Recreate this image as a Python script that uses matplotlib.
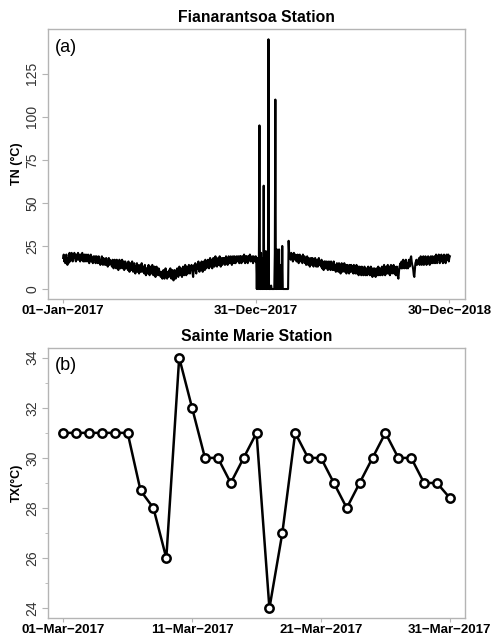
import matplotlib
matplotlib.use("Agg")
from matplotlib import pyplot as plt
from matplotlib.ticker import MultipleLocator
import numpy as np
import pandas as pd

FILENAME = "out.png"

# daily minimum temperature, Fianarantsoa (one row per month)
tn_2017 = [
    18, 20, 16, 19, 15, 17, 20, 15, 14, 18, 15, 19, 21, 16, 19, 20, 21, 17, 16, 20, 18, 21, 19, 17, 16, 20, 17, 19, 21, 17, 20,
    18, 16, 20, 17, 20, 21, 17, 16, 19, 20, 16, 18, 20, 17, 16, 19, 20, 18, 15, 17, 19, 20, 16, 18, 17, 15, 19, 17,
    17, 19, 15, 17, 19, 16, 15, 18, 19, 15, 17, 14, 16, 18, 19, 15, 14, 18, 16, 17, 14, 16, 18, 14, 16, 13, 16, 18, 14, 17, 15,
    16, 14, 13, 17, 15, 12, 15, 17, 13, 15, 12, 17, 15, 13, 11, 15, 17, 13, 12, 16, 14, 17, 12, 14, 16, 11, 14, 16, 12, 14,
    13, 15, 11, 16, 13, 10, 13, 15, 11, 13, 16, 11, 10, 14, 15, 11, 9, 13, 12, 15, 10, 14, 12, 9, 12, 14, 10, 12, 15, 10, 12,
    11, 13, 9, 14, 11, 8, 12, 11, 9, 13, 14, 9, 8, 11, 13, 9, 11, 14, 9, 8, 11, 13, 9, 7, 11, 13, 9, 11, 8, 12,
    11, 9, 8, 7, 10, 8, 6, 9, 11, 7, 6, 9, 12, 8, 7, 6, 10, 9, 7, 11, 8, 12, 7, 6, 9, 11, 7, 5, 9, 11, 7,
    6, 9, 11, 12, 8, 7, 10, 13, 10, 8, 12, 10, 7, 11, 13, 9, 8, 12, 14, 10, 8, 13, 11, 9, 12, 14, 11, 9, 13, 11, 14,
    12, 9, 7, 11, 14, 12, 15, 10, 9, 14, 12, 15, 16, 11, 10, 14, 15, 11, 16, 13, 10, 15, 16, 12, 11, 17, 14, 12, 16, 14,
    17, 13, 12, 16, 18, 13, 15, 17, 12, 15, 18, 16, 13, 15, 19, 16, 14, 13, 17, 18, 14, 16, 19, 15, 13, 17, 18, 14, 16, 18, 16,
    18, 14, 16, 19, 15, 18, 14, 16, 19, 17, 15, 18, 19, 16, 14, 18, 19, 17, 15, 19, 17, 15, 18, 19, 16, 17, 19, 17, 15, 19,
    17, 19, 15, 18, 19, 16, 18, 20, 17, 15, 19, 17, 19, 16, 15, 19, 17, 18, 20, 16, 18, 17, 19, 16, 15, 19, 17, 18, 16, 19, 17,
]
tn_2018 = [
    0, 18, 0, 0, 20, 95, 0, 0, 21, 0, 18, 0, 0, 60, 0, 19, 0, 22, 0, 0, 20, 0, 145, 0, 0, 0, 0, 2, 0, 0, 0,
    0, 0, 0, 21, 110, 0, 0, 23, 0, 18, 0, 23, 0, 14, 0, 12, 0, 25, 0, 0, 0, 0, 0, 0, 0, 0, 0, 0,
    0, 28, 21, 18, 20, 17, 21, 18, 20, 16, 19, 21, 18, 17, 20, 19, 16, 19, 20, 17, 15, 19, 20, 17, 16, 19, 18, 15, 20, 17, 18,
    19, 15, 17, 14, 18, 19, 15, 14, 18, 16, 13, 17, 18, 14, 16, 18, 14, 13, 17, 15, 18, 16, 13, 15, 17, 13, 15, 18, 14, 16,
    15, 13, 17, 12, 15, 14, 11, 16, 13, 16, 12, 14, 16, 12, 11, 14, 16, 12, 14, 11, 16, 12, 14, 11, 13, 16, 11, 14, 13, 10, 13,
    15, 11, 13, 10, 15, 13, 11, 9, 13, 15, 11, 10, 14, 12, 15, 10, 12, 14, 9, 12, 14, 10, 12, 9, 14, 12, 10, 14, 12, 10,
    13, 9, 14, 10, 12, 9, 11, 14, 9, 11, 13, 8, 11, 13, 9, 11, 8, 13, 9, 12, 8, 10, 13, 11, 8, 10, 12, 8, 10, 13, 9,
    12, 8, 10, 13, 8, 10, 7, 12, 10, 8, 12, 10, 7, 10, 12, 8, 10, 13, 8, 12, 10, 8, 12, 9, 13, 8, 10, 12, 14, 10, 8,
    11, 13, 9, 11, 14, 9, 13, 11, 8, 13, 14, 10, 9, 13, 11, 14, 9, 13, 11, 8, 10, 13, 11, 7, 6, 10, 13, 14, 15, 12,
    16, 12, 14, 17, 13, 12, 16, 14, 17, 12, 15, 14, 12, 16, 17, 13, 15, 18, 19, 16, 14, 13, 11, 8, 7, 11, 15, 16, 17, 14, 15,
    15, 17, 18, 14, 16, 19, 15, 14, 18, 16, 19, 14, 17, 16, 19, 18, 14, 17, 16, 19, 17, 15, 14, 18, 19, 15, 17, 19, 15, 17,
    17, 19, 15, 18, 20, 16, 15, 19, 17, 20, 18, 15, 17, 19, 20, 16, 18, 15, 19, 20, 16, 18, 15, 19, 20, 17, 18, 20, 16, 18, 19,
]

# daily maximum temperature, Sainte Marie, March 2017
tx_march = [31, 31, 31, 31, 31, 31, 28.7, 28, 26, 34, 32, 30, 30, 29, 30, 31,
            24, 27, 31, 30, 30, 29, 28, 29, 30, 31, 30, 30, 29, 29, 28.4]

top_ticks = ["2017-01-01", "2017-12-31", "2018-12-30"]
bottom_ticks = ["2017-03-01", "2017-03-11", "2017-03-21", "2017-03-31"]

GRAY = "#b4b4b4"

default_style = {
    "font.family": ["Liberation Sans", "DejaVu Sans"],
    "axes.edgecolor": GRAY,
    "axes.linewidth": 1.0,
    "xtick.color": GRAY,
    "ytick.color": GRAY,
    "xtick.labelcolor": "black",
    "ytick.labelcolor": "#333333",
    "xtick.major.size": 3,
    "ytick.major.size": 4,
    "ytick.minor.size": 2,
}


def _date_labels(ticks):
    return [pd.Timestamp(t).strftime("%d-%b-%Y").replace("-", "\u2212") for t in ticks]


def _r_limits(lo, hi):
    pad = 0.04 * (hi - lo)
    return lo - pad, hi + pad


def _style_axis(ax, title, panel, ylabel):
    ax.set_title(title, fontsize=11.3, fontweight="bold", pad=5)
    ax.set_ylabel(ylabel, fontsize=9, fontweight="bold", labelpad=2)
    ax.text(0.018, 0.965, panel, transform=ax.transAxes, fontsize=13,
            va="top", ha="left")
    ax.tick_params(axis="x", labelsize=9.5, pad=1)
    ax.tick_params(axis="y", labelsize=10, pad=2)
    for lab in ax.get_xticklabels():
        lab.set_fontweight("bold")
    for lab in ax.get_yticklabels():
        lab.set_rotation(90)
        lab.set_va("center")


def main():
    matplotlib.rcParams.update(default_style)
    figure = plt.figure(figsize=(4.92, 6.37), dpi=100)

    # (a) Fianarantsoa, two years of TN
    tn = np.array(tn_2017 + tn_2018, dtype=float)
    days = pd.date_range("2017-01-01", periods=len(tn), freq="D")
    ax = figure.add_axes([0.097, 0.5306, 0.8488, 0.4234])
    ax.plot(days, tn, color="black", linewidth=1.5)
    x0 = matplotlib.dates.date2num(days[0])
    x1 = matplotlib.dates.date2num(days[-1])
    ax.set_xlim(*_r_limits(x0, x1))
    ax.set_ylim(*_r_limits(tn.min(), tn.max()))
    ax.set_xticks(pd.to_datetime(top_ticks))
    ax.set_xticklabels(_date_labels(top_ticks))
    ax.set_yticks([0, 25, 50, 75, 100, 125])
    _style_axis(ax, "Fianarantsoa Station", "(a)", "TN (\u00b0C)")

    # (b) Sainte Marie, March TX
    march = pd.date_range("2017-03-01", periods=len(tx_march), freq="D")
    ax = figure.add_axes([0.097, 0.0294, 0.8488, 0.4248])
    ax.plot(march, tx_march, color="black", linewidth=1.8, marker="o",
            markersize=6, markerfacecolor="white", markeredgecolor="black",
            markeredgewidth=1.8)
    m0 = matplotlib.dates.date2num(march[0])
    m1 = matplotlib.dates.date2num(march[-1])
    ax.set_xlim(*_r_limits(m0, m1))
    ax.set_ylim(*_r_limits(min(tx_march), max(tx_march)))
    ax.set_xticks(pd.to_datetime(bottom_ticks))
    ax.set_xticklabels(_date_labels(bottom_ticks))
    ax.set_yticks([24, 26, 28, 30, 32, 34])
    ax.yaxis.set_minor_locator(MultipleLocator(1))
    _style_axis(ax, "Sainte Marie Station", "(b)", "TX(\u00b0C)")

    figure.savefig(FILENAME, dpi=100)
    return figure


if __name__ == '__main__':
    main()
